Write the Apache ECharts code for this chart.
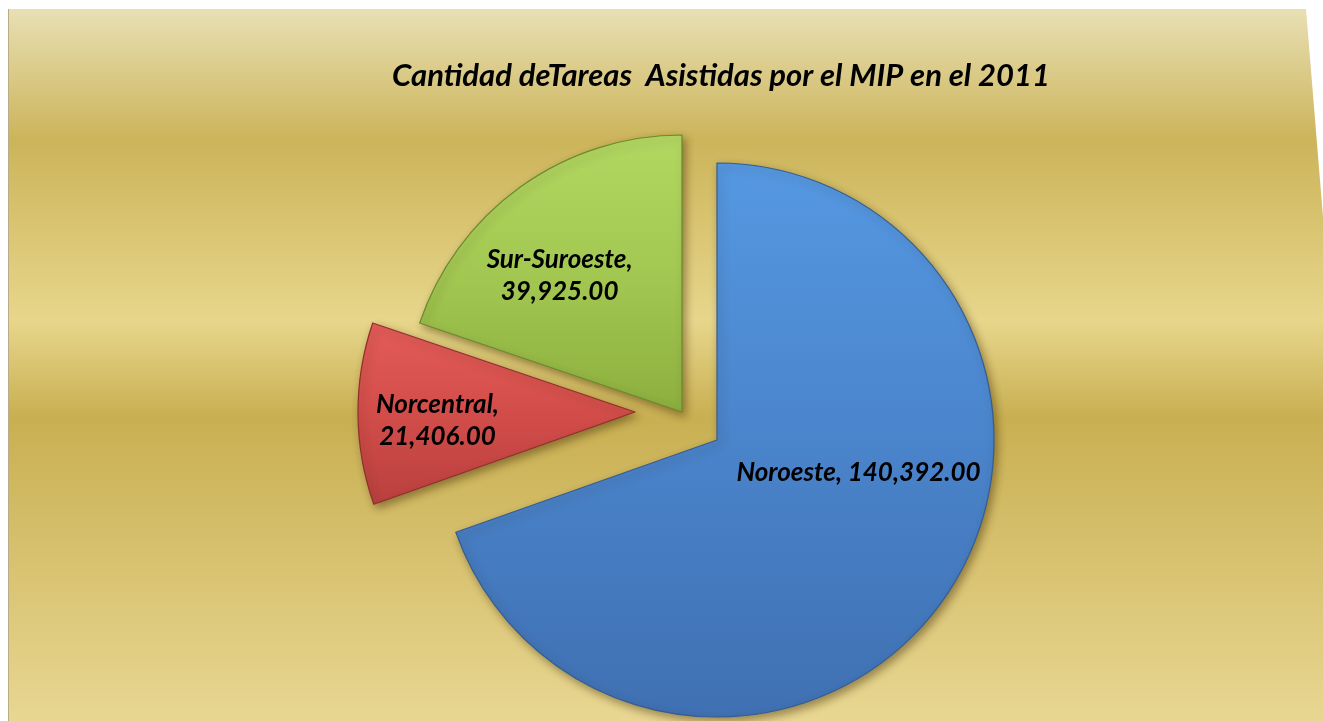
<!DOCTYPE html>
<html>
<head>
<meta charset="utf-8">
<style>
  html, body { margin: 0; padding: 0; background: #fff; }
  #chart { width: 1323px; height: 721px; }
</style>
<script src="https://cdn.jsdelivr.net/npm/echarts@6/dist/echarts.min.js"></script>
</head>
<body>
<div id="chart"></div>
<script>
  const titleText = "Cantidad deTareas  Asistidas por el MIP en el 2011";
  const regions = ["Noroeste", "Norcentral", "Sur-Suroeste"];
  const tasks = [140392, 21406, 39925];

  // look and placement of each exploded slice (apex position, label nudge)
  const sliceFills = [
    ["#5598e2", "#4a84cb", "#3f70b2"],
    ["#e45c58", "#d24d4a", "#b9403e"],
    ["#b2d862", "#a3c852", "#8cae3e"],
  ];
  const sliceEdges = ["#335d95", "#8f2f2d", "#6a8a2c"];
  const sliceCenters = [[717, 440], [635, 412], [682, 412]];
  const labelNudges = [[26, -49], [-56, 8], [-40, -21]];

  const fmt = (v) =>
    v.toLocaleString("en-US", { minimumFractionDigits: 2, maximumFractionDigits: 2 });

  const chart = echarts.init(document.getElementById("chart"), null, { renderer: "canvas" });

  const series = regions.map((_, s) => ({
    type: "pie",
    center: sliceCenters[s],
    radius: 277,
    startAngle: 90,
    clockwise: true,
    silent: true,
    z: 3,
    animation: false,
    labelLine: { show: false },
    label: {
      show: true,
      position: "inside",
      color: "#000",
      fontFamily: "Lato",
      fontStyle: "italic",
      fontWeight: "bold",
      fontSize: 26,
      lineHeight: 32,
      formatter: (p) =>
        p.dataIndex === 0
          ? p.name + ", " + fmt(p.value)
          : p.name + ",\n" + fmt(p.value),
    },
    labelLayout: () => ({ dx: labelNudges[s][0], dy: labelNudges[s][1] }),
    data: regions.map((name, i) => {
      if (i !== s) {
        return {
          name,
          value: tasks[i],
          itemStyle: { color: "rgba(0,0,0,0)", borderWidth: 0 },
          label: { show: false },
        };
      }
      return {
        name,
        value: tasks[i],
        itemStyle: {
          color: new echarts.graphic.LinearGradient(0, 0, 0, 1, [
            { offset: 0, color: sliceFills[s][0] },
            { offset: 0.5, color: sliceFills[s][1] },
            { offset: 1, color: sliceFills[s][2] },
          ]),
          borderColor: sliceEdges[s],
          borderWidth: 1.2,
          shadowColor: "rgba(60,40,0,0.45)",
          shadowBlur: 8,
          shadowOffsetX: 3,
          shadowOffsetY: 4,
        },
      };
    }),
  }));

  chart.setOption({
    backgroundColor: "#ffffff",
    animation: false,
    title: {
      text: titleText,
      left: 716,
      top: 55,
      textAlign: "center",
      textStyle: {
        fontFamily: "Lato",
        fontStyle: "italic",
        fontWeight: "bold",
        fontSize: 31,
        color: "#000",
      },
    },
    graphic: [
      {
        type: "polygon",
        z: -10,
        silent: true,
        shape: {
          points: [[8, 9], [1306, 9], [1323, 217], [1323, 721], [8, 721]],
        },
        style: {
          fill: new echarts.graphic.LinearGradient(0, 0, 0, 1, [
            { offset: 0, color: "#e8e0b4" },
            { offset: 0.184, color: "#ccb45a" },
            { offset: 0.437, color: "#e7d68b" },
            { offset: 0.573, color: "#c9af52" },
            { offset: 1, color: "#e8d792" },
          ]),
        },
      },
      {
        type: "line",
        z: -9,
        silent: true,
        shape: { x1: 8.5, y1: 9, x2: 8.5, y2: 721 },
        style: { stroke: "#b8ad86", lineWidth: 1 },
      },
    ],
    series,
  });
</script>
</body>
</html>
